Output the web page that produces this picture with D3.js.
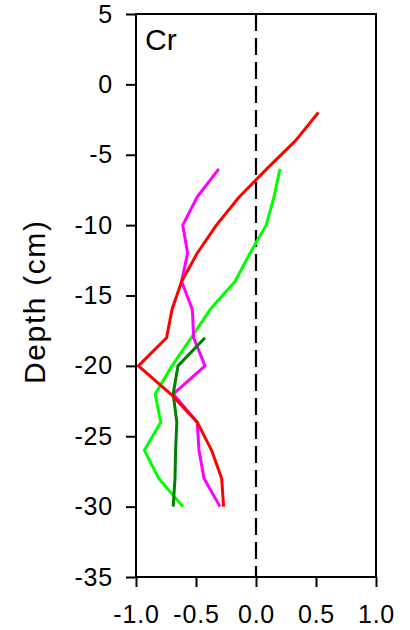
<!DOCTYPE html>
<html>
<head>
<meta charset="utf-8">
<script src="https://cdn.jsdelivr.net/npm/d3@7"></script>
<style>
  html, body { margin: 0; padding: 0; background: #fff; }
  svg { display: block; font-family: "Liberation Sans", Arial, sans-serif; }
</style>
</head>
<body>
<svg id="chart" width="410" height="630"></svg>
<script>
// Depth profiles of Cr (cm below surface)
const depthsRed = [-2, -4, -6, -8, -10, -12, -14, -16, -18, -20, -22, -24, -26, -28, -30];
const valuesRed = [0.52, 0.33, 0.09, -0.14, -0.33, -0.49, -0.62, -0.70, -0.745, -0.98, -0.71, -0.49, -0.37, -0.286, -0.27];

const depthsMagenta = [-6, -8, -10, -12, -14, -16, -18, -20, -22, -24, -26, -28, -30];
const valuesMagenta = [-0.31, -0.49, -0.61, -0.57, -0.62, -0.53, -0.52, -0.425, -0.69, -0.49, -0.475, -0.433, -0.30];

const depthsGreen = [-6, -8, -10, -12, -14, -16, -18, -20, -22, -24, -26, -28, -30];
const valuesGreen = [0.20, 0.15, 0.085, -0.05, -0.175, -0.383, -0.54, -0.70, -0.84, -0.794, -0.93, -0.81, -0.61];

const depthsDarkGreen = [-18, -20, -22, -24, -26, -28, -30];
const valuesDarkGreen = [-0.425, -0.65, -0.69, -0.66, -0.67, -0.675, -0.69];

const xTicks = [-1.0, -0.5, 0.0, 0.5, 1.0];
const yTicks = [5, 0, -5, -10, -15, -20, -25, -30, -35];

const panelLabel = "Cr";
const yTitle = "Depth (cm)";

const series = [
  { depths: depthsGreen, values: valuesGreen, color: "#00ff00" },
  { depths: depthsMagenta, values: valuesMagenta, color: "#ff00ff" },
  { depths: depthsDarkGreen, values: valuesDarkGreen, color: "#008000" },
  { depths: depthsRed, values: valuesRed, color: "#ff0000" }
];

const svg = d3.select("#chart");
const plotLeft = 136, plotRight = 376, plotTop = 14, plotBottom = 577;

const x = d3.scaleLinear().domain([-1, 1]).range([plotLeft, plotRight]);
const y = d3.scaleLinear().domain([5, -35]).range([plotTop, plotBottom]);

const fmtX = v => d3.format(".1f")(v).replace("\u2212", "-");
const fmtY = v => d3.format("d")(v).replace("\u2212", "-");

// Zero reference line
svg.append("line")
  .attr("x1", x(0)).attr("x2", x(0))
  .attr("y1", plotTop).attr("y2", plotBottom)
  .attr("stroke", "#000")
  .attr("stroke-width", 2.2)
  .attr("stroke-dasharray", "17,7");

// Profiles
const line = d3.line().x(d => x(d[1])).y(d => y(d[0]));
series.forEach(s => {
  svg.append("path")
    .datum(s.depths.map((d, i) => [d, s.values[i]]))
    .attr("d", line)
    .attr("fill", "none")
    .attr("stroke", s.color)
    .attr("stroke-width", 3)
    .attr("stroke-linejoin", "round");
});

// Axes
const yAxis = d3.axisLeft(y).tickValues(yTicks).tickFormat(fmtY).tickSize(10).tickPadding(13).tickSizeOuter(0);
const gy = svg.append("g").attr("transform", `translate(${plotLeft},0)`).call(yAxis);
gy.select(".domain").remove();
gy.selectAll(".tick line").attr("stroke", "#000").attr("stroke-width", 2);
gy.selectAll(".tick text").attr("font-size", 25).attr("fill", "#000")
  .attr("letter-spacing", 0.8)
  .attr("font-family", "Liberation Sans, Arial, sans-serif");

const xAxis = d3.axisBottom(x).tickValues(xTicks).tickFormat(fmtX).tickSize(10).tickPadding(18.5).tickSizeOuter(0);
const gx = svg.append("g").attr("transform", `translate(0,${plotBottom})`).call(xAxis);
gx.select(".domain").remove();
gx.selectAll(".tick line").attr("stroke", "#000").attr("stroke-width", 2);
gx.selectAll(".tick text").attr("font-size", 25).attr("fill", "#000")
  .attr("letter-spacing", 0.8)
  .attr("font-family", "Liberation Sans, Arial, sans-serif");

// Frame
svg.append("rect")
  .attr("x", plotLeft).attr("y", plotTop)
  .attr("width", plotRight - plotLeft).attr("height", plotBottom - plotTop)
  .attr("fill", "none").attr("stroke", "#000").attr("stroke-width", 2);

// Panel label
svg.append("text")
  .attr("x", 145).attr("y", 50)
  .attr("font-size", 30)
  .attr("fill", "#000")
  .text(panelLabel);

// Y axis title
svg.append("text")
  .attr("transform", `translate(45,${(220 + 385) / 2}) rotate(-90)`)
  .attr("text-anchor", "middle")
  .attr("font-size", 30)
  .attr("textLength", 163)
  .attr("lengthAdjust", "spacing")
  .attr("fill", "#000")
  .text(yTitle);
</script>
</body>
</html>
